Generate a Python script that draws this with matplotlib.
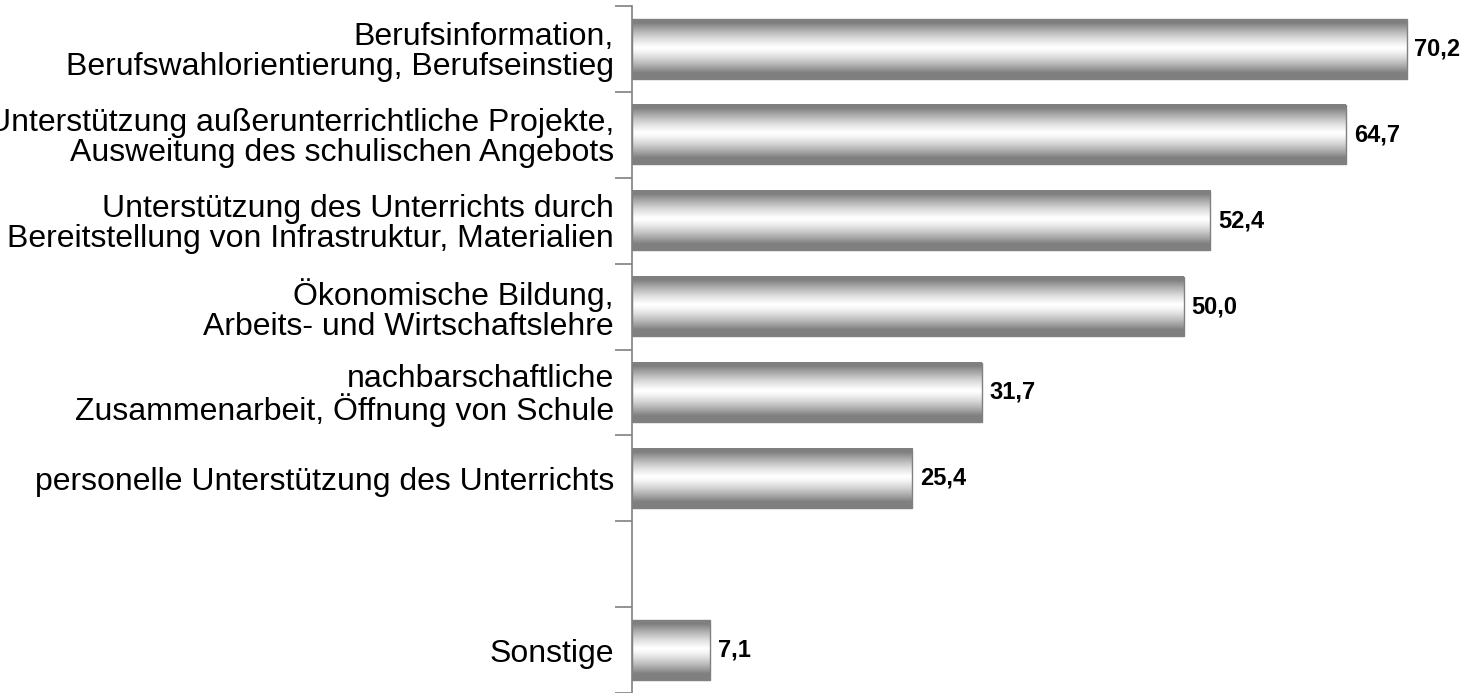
import matplotlib
matplotlib.use("Agg")
import matplotlib.pyplot as plt
import numpy as np

plt.rcParams["font.family"] = ["Liberation Sans", "DejaVu Sans"]

# categories, top to bottom ("" = empty slot in the original chart)
labels = [
    "Berufsinformation,\nBerufswahlorientierung, Berufseinstieg",
    "Unterstützung außerunterrichtliche Projekte,\nAusweitung des schulischen Angebots",
    "Unterstützung des Unterrichts durch\nBereitstellung von Infrastruktur, Materialien",
    "Ökonomische Bildung,\nArbeits- und Wirtschaftslehre",
    "nachbarschaftliche\nZusammenarbeit, Öffnung von Schule",
    "personelle Unterstützung des Unterrichts",
    "",
    "Sonstige",
]
values = [70.2, 64.7, 52.4, 50.0, 31.7, 25.4, None, 7.1]
value_labels = ["70,2", "64,7", "52,4", "50,0", "31,7", "25,4", "", "7,1"]

BAR_H = 0.69
EDGE = "#808080"

fig = plt.figure(figsize=(14.64, 6.93), dpi=100)
ax = fig.add_axes([632 / 1464, 0.0, 1 - 632 / 1464, 1 - 6 / 693])

# vertical shading: grey at the edges, white in the middle
t = np.linspace(0, 1, 64)
shade = np.clip(np.abs(t - 0.48) / 0.42, 0, 1) ** 1.3
grey = 1.0 - 0.5 * shade
grad = np.stack([grey, grey, grey], axis=-1)[:, None, :].repeat(2, axis=1)

ypos = np.arange(len(labels))
for y, v, vl in zip(ypos, values, value_labels):
    if v is None:
        continue
    ax.imshow(grad, extent=(0, v, y + BAR_H / 2, y - BAR_H / 2),
              aspect="auto", interpolation="bilinear", zorder=2)
    ax.barh(y, v, height=BAR_H, facecolor="none", edgecolor=EDGE,
            linewidth=1.0, zorder=3)
    ax.text(v + 0.7, y, vl, va="center", ha="left", fontsize=17,
            fontweight="bold", color="black")

ax.set_xlim(0, 75.4)
ax.set_ylim(len(labels) - 0.5, -0.5)
ax.set_yticks(ypos)
ax.set_yticklabels(labels, fontsize=23, multialignment="right",
                   linespacing=0.98)
ax.set_yticks(np.arange(len(labels) + 1) - 0.5, minor=True)
ax.tick_params(axis="y", which="major", length=0, pad=13)
ax.tick_params(axis="y", which="minor", length=12, width=1.2, color=EDGE)
ax.set_xticks([])

for s in ["top", "right", "bottom"]:
    ax.spines[s].set_visible(False)
ax.spines["left"].set_color(EDGE)
ax.spines["left"].set_linewidth(1.2)

fig.savefig("out.png", dpi=100)
